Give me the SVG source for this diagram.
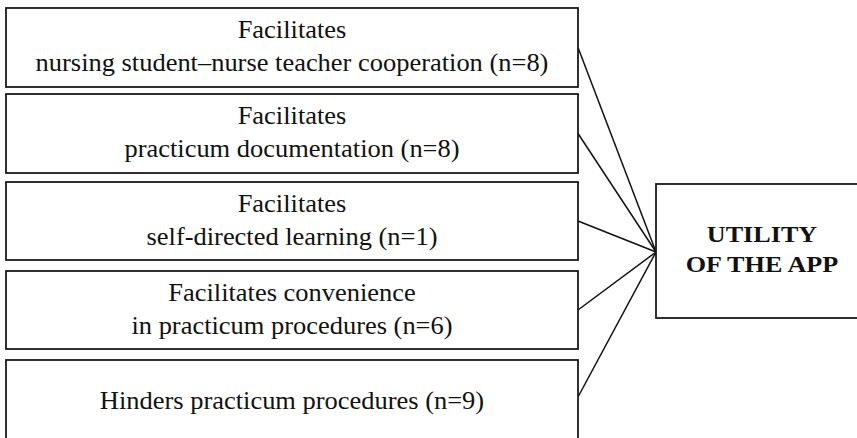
<svg xmlns="http://www.w3.org/2000/svg" width="857" height="438" viewBox="0 0 857 438">
  <style>
    .box { fill: #ffffff; stroke: #1a1a1a; stroke-width: 1.8; }
    .link { stroke: #111111; stroke-width: 1.5; fill: none; }
    .lbl { font-family: "Liberation Serif", "Times New Roman", serif; font-size: 24.5px; fill: #111111; text-anchor: middle; }
    .hub { font-weight: bold; font-size: 24px; }
  </style>
  <rect x="0" y="0" width="857" height="438" fill="#ffffff"/>

  <!-- connectors: right edge of each category box to the hub box -->
  <g id="connectors">
    <line class="link" x1="578" y1="47.5" x2="656" y2="252"/>
    <line class="link" x1="578" y1="133.5" x2="656" y2="252"/>
    <line class="link" x1="578" y1="221" x2="656" y2="252"/>
    <line class="link" x1="578" y1="310" x2="656" y2="252"/>
    <line class="link" x1="578" y1="397" x2="656" y2="252"/>
  </g>

  <g id="cooperation">
    <rect class="box" x="6" y="8" width="572" height="79"/>
    <text class="lbl" transform="translate(292,38) scale(1.08,1)">Facilitates</text>
    <text class="lbl" transform="translate(292,71) scale(1.08,1)">nursing student–nurse teacher cooperation (n=8)</text>
  </g>

  <g id="documentation">
    <rect class="box" x="6" y="94" width="572" height="79"/>
    <text class="lbl" transform="translate(292,124) scale(1.08,1)">Facilitates</text>
    <text class="lbl" transform="translate(292,157) scale(1.08,1)">practicum documentation (n=8)</text>
  </g>

  <g id="self-directed">
    <rect class="box" x="6" y="182" width="572" height="78"/>
    <text class="lbl" transform="translate(292,212) scale(1.08,1)">Facilitates</text>
    <text class="lbl" transform="translate(292,245) scale(1.08,1)">self-directed learning (n=1)</text>
  </g>

  <g id="convenience">
    <rect class="box" x="6" y="271" width="572" height="78"/>
    <text class="lbl" transform="translate(292,301) scale(1.08,1)">Facilitates convenience</text>
    <text class="lbl" transform="translate(292,334) scale(1.08,1)">in practicum procedures (n=6)</text>
  </g>

  <g id="hinders">
    <rect class="box" x="6" y="360" width="572" height="90"/>
    <text class="lbl" transform="translate(292,409) scale(1.08,1)">Hinders practicum procedures (n=9)</text>
  </g>

  <g id="utility">
    <rect class="box" x="656" y="184" width="220" height="134"/>
    <text class="lbl hub" transform="translate(762,242) scale(1.09,1)">UTILITY</text>
    <text class="lbl hub" transform="translate(762,272) scale(1.09,1)">OF THE APP</text>
  </g>
</svg>
